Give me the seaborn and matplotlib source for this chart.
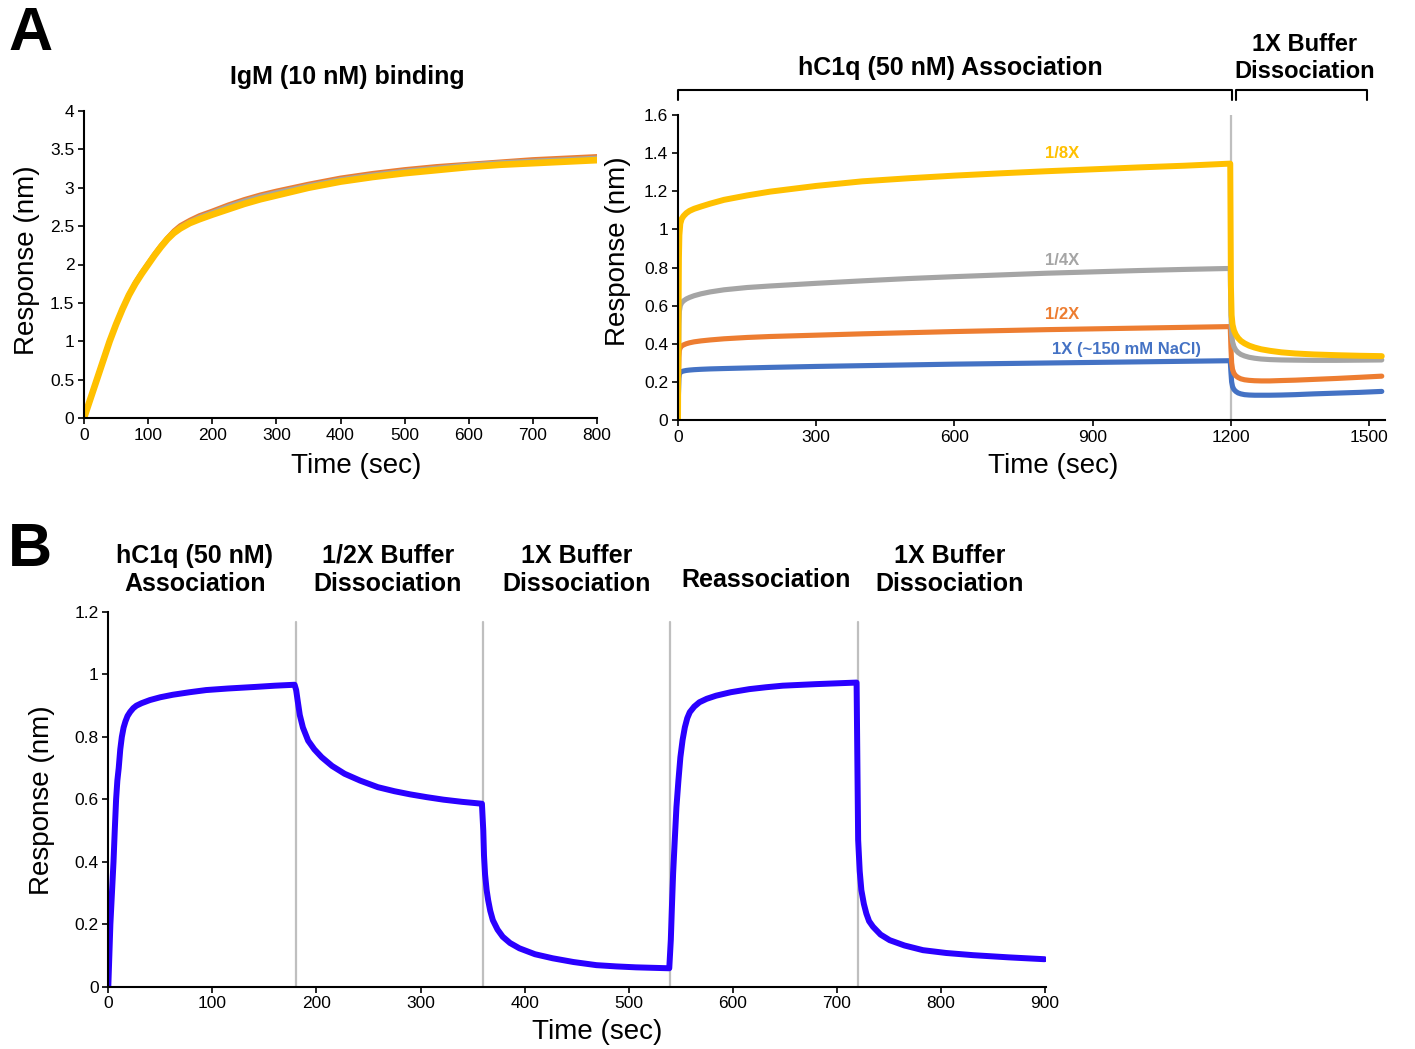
import matplotlib
matplotlib.use("Agg")
import matplotlib.pyplot as plt
import seaborn as sns
import pandas as pd

# ---------------- data ----------------
# Panel A (left): IgM (10 nM) binding
igm_time = [0, 10, 20, 30, 40, 50, 60, 70, 80, 90, 100, 110, 120, 130, 140, 150, 165, 180, 200,
            225, 250, 275, 300, 350, 400, 450, 500, 550, 600, 650, 700, 750, 800]
igm_orange = [0, 0.26, 0.51, 0.76, 1.01, 1.23, 1.43, 1.61, 1.77, 1.9, 2.02, 2.14, 2.25, 2.35, 2.44, 2.51,
              2.58, 2.64, 2.7, 2.78, 2.85, 2.91, 2.96, 3.05, 3.13, 3.19, 3.24, 3.28, 3.31, 3.34, 3.37, 3.39, 3.41]
igm_gray = [0, 0.25, 0.5, 0.75, 1.0, 1.22, 1.42, 1.6, 1.76, 1.89, 2.01, 2.13, 2.24, 2.34, 2.42, 2.49,
            2.56, 2.62, 2.68, 2.76, 2.83, 2.89, 2.94, 3.03, 3.11, 3.17, 3.22, 3.26, 3.3, 3.33, 3.35, 3.37, 3.39]
igm_yellow = [0, 0.25, 0.5, 0.75, 1.0, 1.22, 1.42, 1.6, 1.75, 1.88, 2.0, 2.12, 2.23, 2.33, 2.41, 2.47,
              2.54, 2.59, 2.65, 2.72, 2.79, 2.85, 2.9, 3.0, 3.08, 3.14, 3.19, 3.23, 3.27, 3.3, 3.32, 3.34, 3.36]
igm_xticks = [0, 100, 200, 300, 400, 500, 600, 700, 800]
igm_yticks = [0, 0.5, 1, 1.5, 2, 2.5, 3, 3.5, 4]
igm_yticklabels = ["0", "0.5", "1", "1.5", "2", "2.5", "3", "3.5", "4"]

# Panel A (right): hC1q association / dissociation at different buffer strengths
salt_time = [0, 1, 2, 3, 5, 8, 12, 18, 25, 35, 50, 70, 100, 150, 200, 300, 400, 500, 600, 700, 800,
             900, 1000, 1100, 1199,
             1200.5, 1202, 1204, 1207, 1211, 1216, 1222, 1230, 1240, 1252, 1266, 1285, 1310, 1340,
             1380, 1430, 1480, 1528]
salt_1x = [0, 0.14, 0.22, 0.24, 0.25, 0.254, 0.257, 0.26, 0.262, 0.264, 0.266, 0.268, 0.27, 0.273, 0.276,
           0.281, 0.285, 0.289, 0.293, 0.296, 0.299, 0.302, 0.305, 0.308, 0.311,
           0.25, 0.2, 0.175, 0.16, 0.15, 0.142, 0.137, 0.133, 0.131, 0.13, 0.13, 0.13, 0.131, 0.133,
           0.137, 0.141, 0.145, 0.15]
salt_half = [0, 0.2, 0.33, 0.365, 0.38, 0.388, 0.394, 0.4, 0.405, 0.41, 0.415, 0.42, 0.426, 0.433, 0.438,
             0.445, 0.452, 0.458, 0.464, 0.469, 0.474, 0.478, 0.482, 0.486, 0.49,
             0.38, 0.3, 0.265, 0.245, 0.232, 0.223, 0.216, 0.211, 0.208, 0.206, 0.205, 0.205, 0.207, 0.209,
             0.213, 0.218, 0.224, 0.23]
salt_quarter = [0, 0.3, 0.5, 0.57, 0.6, 0.615, 0.625, 0.635, 0.643, 0.652, 0.662, 0.672, 0.683, 0.695, 0.703,
                0.717, 0.73, 0.742, 0.752, 0.761, 0.77, 0.777, 0.784, 0.79, 0.795,
                0.55, 0.45, 0.41, 0.385, 0.367, 0.354, 0.344, 0.336, 0.329, 0.324, 0.32, 0.317, 0.315, 0.314,
                0.313, 0.313, 0.314, 0.315]
salt_eighth = [0, 0.5, 0.85, 0.97, 1.03, 1.055, 1.07, 1.085, 1.097, 1.108, 1.12, 1.135, 1.155, 1.178, 1.198,
               1.228, 1.252, 1.268, 1.282, 1.294, 1.305, 1.315, 1.325, 1.334, 1.345,
               0.7, 0.55, 0.5, 0.47, 0.448, 0.43, 0.415, 0.402, 0.39, 0.38, 0.371, 0.363, 0.355, 0.349,
               0.344, 0.34, 0.337, 0.335]
salt_names = ["1X (~150 mM NaCl)", "1/2X", "1/4X", "1/8X"]
salt_xticks = [0, 300, 600, 900, 1200, 1500]
salt_yticks = [0, 0.2, 0.4, 0.6, 0.8, 1.0, 1.2, 1.4, 1.6]
salt_yticklabels = ["0", "0.2", "0.4", "0.6", "0.8", "1", "1.2", "1.4", "1.6"]

# Panel B: association / dissociation / reassociation cycle (one array pair per phase)
assoc_t = [0, 1, 2, 3.5, 5, 6.2, 7.5, 8.7, 10, 11.5, 13, 14.7, 16.5, 18.5, 21, 24, 27, 32, 40, 50,
           62, 78, 94, 115, 141, 160, 179]
assoc_r = [0, 0.1, 0.2, 0.3, 0.4, 0.5, 0.6, 0.66, 0.7, 0.76, 0.8, 0.83, 0.85, 0.867, 0.88, 0.892, 0.9,
           0.908, 0.918, 0.927, 0.935, 0.943, 0.95, 0.955, 0.96, 0.964, 0.967]
diss_half_t = [180.5, 182, 184, 187, 192, 198, 205, 215, 227, 242, 259, 275, 290, 306, 322, 340, 359]
diss_half_r = [0.95, 0.915, 0.87, 0.83, 0.788, 0.76, 0.735, 0.707, 0.682, 0.66, 0.639, 0.626, 0.616,
               0.607, 0.599, 0.592, 0.586]
diss_1x_t = [360.3, 361, 362, 363.5, 365, 367, 369.5, 374, 379, 386, 395, 410, 427, 447, 469, 488, 507, 539]
diss_1x_r = [0.5, 0.42, 0.36, 0.31, 0.277, 0.243, 0.213, 0.183, 0.16, 0.14, 0.123, 0.104, 0.091, 0.079,
             0.069, 0.065, 0.062, 0.059]
reassoc_t = [540.5, 541.5, 542.7, 544.3, 545.9, 547.8, 549.7, 551.8, 554, 556.3, 558.7, 563, 568, 575,
             584, 598, 616, 632, 648, 680, 719]
reassoc_r = [0.15, 0.25, 0.362, 0.47, 0.575, 0.66, 0.735, 0.79, 0.831, 0.86, 0.879, 0.897, 0.911, 0.922,
             0.932, 0.943, 0.953, 0.959, 0.964, 0.969, 0.974]
diss_final_t = [720.5, 722, 723.6, 726, 728.4, 731, 734.8, 742, 750.8, 765, 782.8, 805, 830.8, 865, 899.6]
diss_final_r = [0.47, 0.37, 0.309, 0.265, 0.234, 0.21, 0.192, 0.167, 0.149, 0.132, 0.117, 0.108, 0.101,
                0.094, 0.088]
cyc_phase_bounds = [180, 360, 540, 720]
cyc_phase_labels = ["hC1q (50 nM)\nAssociation", "1/2X Buffer\nDissociation", "1X Buffer\nDissociation",
                    "Reassociation", "1X Buffer\nDissociation"]
cyc_xticks = [0, 100, 200, 300, 400, 500, 600, 700, 800, 900]
cyc_yticks = [0, 0.2, 0.4, 0.6, 0.8, 1.0, 1.2]
cyc_yticklabels = ["0", "0.2", "0.4", "0.6", "0.8", "1", "1.2"]

# ---------------- style ----------------
sns.set_theme(style="ticks")
plt.rcParams["font.family"] = ["Liberation Sans", "DejaVu Sans"]
plt.rcParams["axes.linewidth"] = 1.5
plt.rcParams["axes.edgecolor"] = "black"
plt.rcParams["text.color"] = "black"
plt.rcParams["axes.labelcolor"] = "black"
plt.rcParams["xtick.color"] = "black"
plt.rcParams["ytick.color"] = "black"

YELLOW = "#FFC000"
GRAY = "#A5A5A5"
ORANGE = "#ED7D31"
BLUE = "#4472C4"
VIOLET = "#2A00FF"

W, H = 1415, 1049
fig = plt.figure(figsize=(W / 100, H / 100), dpi=100)


def rect(x0, y0, x1, y1):
    # pixel box (left, top, right, bottom) -> figure fraction rect
    return [x0 / W, 1 - y1 / H, (x1 - x0) / W, (y1 - y0) / H]


def ftext(px, py, s, **kw):
    fig.text(px / W, 1 - py / H, s, **kw)


def style_axes(ax):
    sns.despine(ax=ax)
    ax.tick_params(axis="both", direction="out", length=4, width=1.2, colors="black",
                   labelsize=12.5, pad=3)
    ax.grid(False)


def round_lines(ax):
    for l in ax.lines:
        l.set_solid_capstyle("round")
        l.set_solid_joinstyle("round")


# ---------- Panel A left ----------
axL = fig.add_axes(rect(84, 111, 597, 418))
df_igm = pd.DataFrame({"t": igm_time, "orange": igm_orange, "gray": igm_gray, "yellow": igm_yellow})
sns.lineplot(data=df_igm, x="t", y="orange", ax=axL, color=ORANGE, linewidth=3.2, estimator=None, sort=False)
sns.lineplot(data=df_igm, x="t", y="gray", ax=axL, color=GRAY, linewidth=3.2, estimator=None, sort=False)
sns.lineplot(data=df_igm, x="t", y="yellow", ax=axL, color=YELLOW, linewidth=4.8, estimator=None, sort=False)
round_lines(axL)
axL.set_xlim(0, 800)
axL.set_ylim(0, 4)
axL.set_xticks(igm_xticks)
axL.set_yticks(igm_yticks)
axL.set_yticklabels(igm_yticklabels)
style_axes(axL)
axL.set_xlabel("Time (sec)", fontsize=20)
axL.set_ylabel("Response (nm)", fontsize=20)
axL.xaxis.set_label_coords(0.53, -0.155)
axL.xaxis.label.set_va("center")
axL.yaxis.set_label_coords(-0.111, 0.515)
axL.yaxis.label.set_va("center")

# ---------- Panel A right ----------
axR = fig.add_axes(rect(678, 115, 1385, 420))
axR.axvline(1200, color="#BFBFBF", linewidth=1.6, zorder=0)
df_salt = pd.DataFrame({"t": salt_time, salt_names[0]: salt_1x, salt_names[1]: salt_half,
                        salt_names[2]: salt_quarter, salt_names[3]: salt_eighth})
salt_colors = [BLUE, ORANGE, GRAY, YELLOW]
salt_lw = [3.7, 3.7, 3.7, 4.3]
for name, c, lw in zip(salt_names, salt_colors, salt_lw):
    sns.lineplot(data=df_salt, x="t", y=name, ax=axR, color=c, linewidth=lw, estimator=None, sort=False)
for l in axR.lines[1:]:
    l.set_solid_capstyle("round")
    l.set_solid_joinstyle("round")
axR.set_xlim(0, 1535)
axR.set_ylim(0, 1.6)
axR.set_xticks(salt_xticks)
axR.set_yticks(salt_yticks)
axR.set_yticklabels(salt_yticklabels)
style_axes(axR)
axR.set_xlabel("Time (sec)", fontsize=20)
axR.set_ylabel("Response (nm)", fontsize=20)
axR.xaxis.set_label_coords(0.53, -0.15)
axR.xaxis.label.set_va("center")
axR.yaxis.set_label_coords(-0.085, 0.554)
axR.yaxis.label.set_va("center")

# series labels
label_pos = {salt_names[3]: (835, 1.396), salt_names[2]: (835, 0.839),
             salt_names[1]: (835, 0.556), salt_names[0]: (974, 0.372)}
for name, c in zip(salt_names, salt_colors):
    x, y = label_pos[name]
    axR.text(x, y, name, color=c, fontsize=12, fontweight="bold", ha="center", va="center")

# brackets above right panel
axR.plot([0, 0, 1203, 1203], [1.679, 1.731, 1.731, 1.679], color="black", lw=1.5, clip_on=False)
axR.plot([1211, 1211, 1497, 1497], [1.679, 1.731, 1.731, 1.679], color="black", lw=1.5, clip_on=False)

# ---------- Panel B ----------
axB = fig.add_axes(rect(108.3, 612, 1046, 986.7))
for b in cyc_phase_bounds:
    axB.plot([b, b], [0, 1.167], color="#BFBFBF", linewidth=1.6, zorder=0)
df_cyc = pd.DataFrame({"t": assoc_t + diss_half_t + diss_1x_t + reassoc_t + diss_final_t,
                       "resp": assoc_r + diss_half_r + diss_1x_r + reassoc_r + diss_final_r})
sns.lineplot(data=df_cyc, x="t", y="resp", ax=axB, color=VIOLET, linewidth=4.3, estimator=None, sort=False)
for l in axB.lines[len(cyc_phase_bounds):]:
    l.set_solid_capstyle("round")
    l.set_solid_joinstyle("round")
axB.set_xlim(0, 901)
axB.set_ylim(0, 1.2)
axB.set_xticks(cyc_xticks)
axB.set_yticks(cyc_yticks)
axB.set_yticklabels(cyc_yticklabels)
style_axes(axB)
axB.set_xlabel("Time (sec)", fontsize=20)
axB.set_ylabel("Response (nm)", fontsize=20)
axB.xaxis.set_label_coords(0.521, -0.12)
axB.xaxis.label.set_va("center")
axB.yaxis.set_label_coords(-0.0705, 0.499)
axB.yaxis.label.set_va("center")

# ---------- titles / annotations ----------
ftext(347, 77, "IgM (10 nM) binding", fontsize=18, fontweight="bold", ha="center", va="center")
ftext(950, 68, "hC1q (50 nM) Association", fontsize=18, fontweight="bold", ha="center", va="center")
ftext(1305, 58, "1X Buffer\nDissociation", fontsize=17, fontweight="bold", ha="center", va="center",
      linespacing=1.2)

phase_x = [195, 388, 577, 766, 950]
for px, lab in zip(phase_x, cyc_phase_labels):
    py = 570 if "\n" in lab else 580
    ftext(px, py, lab, fontsize=18, fontweight="bold", ha="center", va="center", linespacing=1.25)

ftext(8, 35, "A", fontsize=44, fontweight="bold", ha="left", va="center")
ftext(8, 550, "B", fontsize=44, fontweight="bold", ha="left", va="center")

fig.savefig("out.png", dpi=100, facecolor="white")
